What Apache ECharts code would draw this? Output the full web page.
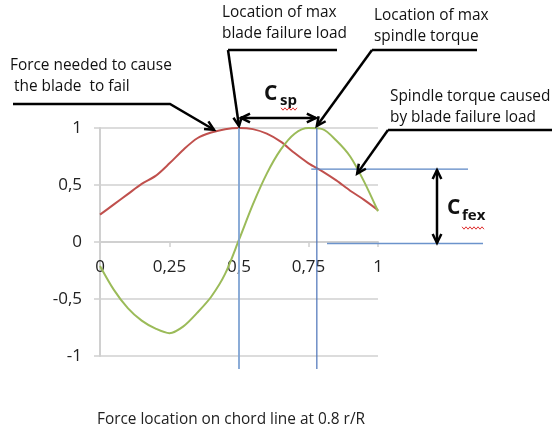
<!DOCTYPE html>
<html>
<head>
<meta charset="utf-8">
<script src="https://cdn.jsdelivr.net/npm/echarts@6/dist/echarts.min.js"></script>
<style>
html,body{margin:0;padding:0;background:#fff;}
#c{width:552px;height:430px;}
</style>
</head>
<body>
<div id="c"></div>
<script>
// ---- data ----
var xPositions = [0, 0.05, 0.1, 0.15, 0.2, 0.25, 0.3, 0.35, 0.4, 0.45, 0.5, 0.55, 0.6, 0.65, 0.7, 0.75, 0.8, 0.85, 0.9, 0.95, 1];
var bladeFailureForce = [0.24, 0.33, 0.42, 0.51, 0.58, 0.69, 0.81, 0.91, 0.96, 0.99, 1.0, 0.99, 0.95, 0.88, 0.78, 0.69, 0.62, 0.54, 0.45, 0.37, 0.28];
var spindleTorque = [-0.21, -0.42, -0.58, -0.69, -0.76, -0.80, -0.74, -0.62, -0.48, -0.28, 0.02, 0.33, 0.60, 0.81, 0.95, 1.0, 0.99, 0.89, 0.75, 0.53, 0.27];
var xTicks = [0, 0.25, 0.5, 0.75, 1];
var yTicks = [-1, -0.5, 0, 0.5, 1];
var maxBladeLoadX = 0.5;
var maxSpindleTorqueX = 0.78;
var torqueAtBladeFailure = 0.64;
var xTitle = 'Force location on chord line at 0.8 r/R';

var FONT = '"Open Sans", Lato, sans-serif';
function fmt(v) { return String(v).replace('.', ','); }
function pairs(xs, ys) { return xs.map(function (x, i) { return [x, ys[i]]; }); }

var chart = echarts.init(document.getElementById('c'), null, {renderer: 'canvas'});
chart.setOption({
  animation: false,
  backgroundColor: '#fff',
  grid: {left: 100, right: 174, top: 128, bottom: 74, containLabel: false},
  xAxis: {
    type: 'value', min: xTicks[0], max: xTicks[xTicks.length - 1], interval: xTicks[1] - xTicks[0],
    axisLine: {onZero: false, lineStyle: {color: '#d0d0d0', width: 2}},
    axisTick: {show: true, length: 5, lineStyle: {color: '#d0d0d0', width: 1.5}},
    axisLabel: {formatter: fmt, margin: 17, color: '#222', fontSize: 17, fontFamily: FONT},
    splitLine: {show: false}
  },
  yAxis: {
    type: 'value', min: yTicks[0], max: yTicks[yTicks.length - 1], interval: yTicks[1] - yTicks[0],
    axisLine: {show: true, lineStyle: {color: '#d0d0d0', width: 2}},
    axisTick: {show: true, length: 6, lineStyle: {color: '#d0d0d0', width: 1.5}},
    axisLabel: {formatter: fmt, margin: 18, color: '#222', fontSize: 17, fontFamily: FONT},
    splitLine: {show: true, lineStyle: {color: '#dcdcdc', width: 2}}
  },
  series: [
    {type: 'line', name: 'blade', data: pairs(xPositions, bladeFailureForce), smooth: 0.3, symbol: 'none',
     lineStyle: {color: '#c0504d', width: 2}, z: 3},
    {type: 'line', name: 'spindle', data: pairs(xPositions, spindleTorque), smooth: 0.3, symbol: 'none',
     lineStyle: {color: '#9bbb59', width: 2}, z: 3}
  ]
});

function P(x, y) { return chart.convertToPixel({gridIndex: 0}, [x, y]); }

// move the x axis (line, ticks and labels) up to y = 0, as in the reference
var zeroPx = P(0, 0)[1], bottomPx = P(0, yTicks[0])[1];
chart.setOption({xAxis: {offset: -(bottomPx - zeroPx)}});

var els = [];
var BLK = {stroke: '#000', lineWidth: 2.5, fill: null};
var TS = 15.4;
function line(pts, style) { els.push({type: 'polyline', shape: {points: pts}, style: style || BLK, z: 10}); }
function head(x1, y1, x2, y2) {
  var a = Math.atan2(y2 - y1, x2 - x1), L = 10, w = 0.45;
  line([[x2 - L * Math.cos(a - w), y2 - L * Math.sin(a - w)], [x2, y2], [x2 - L * Math.cos(a + w), y2 - L * Math.sin(a + w)]]);
}
function arrow(x1, y1, x2, y2) { line([[x1, y1], [x2, y2]]); head(x1, y1, x2, y2); }
function dbl(x1, y1, x2, y2) { line([[x1, y1], [x2, y2]]); head(x1, y1, x2, y2); head(x2, y2, x1, y1); }
function txt(t, x, y, opts) {
  opts = opts || {};
  els.push({type: 'text', x: x, y: y, z: 12, style: {text: t, fill: opts.color || '#111', font: (opts.weight || 'normal') + ' ' + (opts.size || TS) + 'px ' + FONT, textVerticalAlign: 'middle', textAlign: opts.align || 'left'}});
}
function wavy(x1, x2, y) {
  var pts = [], i = 0;
  for (var x = x1; x <= x2; x += 2) { pts.push([x, y + (i % 2 ? 1.2 : -1.2)]); i++; }
  line(pts, {stroke: '#e03030', lineWidth: 1, fill: null});
}

// blue reference lines
var pBladeTop = P(maxBladeLoadX, 1), pBladeBot = P(maxBladeLoadX, -1);
var pSpTop = P(maxSpindleTorqueX, 1), pSpBot = P(maxSpindleTorqueX, -1);
line([[pBladeTop[0], pBladeTop[1]], [pBladeBot[0], pBladeBot[1] + 13]], {stroke: '#7fa3d3', lineWidth: 1.8, fill: null});
line([[pSpTop[0], pSpTop[1]], [pSpBot[0], pSpBot[1] + 13]], {stroke: '#4a72b8', lineWidth: 1.2, fill: null});
var pT = P(0.76, torqueAtBladeFailure);
line([[pT[0], pT[1]], [468, pT[1]]], {stroke: '#5b86c4', lineWidth: 1.3, fill: null});
var pZ = P(0, 0);
line([[327, pZ[1] + 1.5], [483, pZ[1] + 1.5]], {stroke: '#6b93cc', lineWidth: 1.6, fill: null});

// leader 1: force needed
var t1 = P(0.41, 0.985);
line([[13, 104], [170, 104], [t1[0], t1[1]]]);
head(170, 104, t1[0], t1[1]);
txt('Force needed to cause', 10, 66);
txt(' the blade  to fail', 10, 87);

// leader 2: location of max blade failure load
line([[228, 50], [337, 50]]);
arrow(228, 50, pBladeTop[0], pBladeTop[1] - 2);
txt('Location of max', 222, 13);
txt('blade failure load', 222, 34);

// leader 3: location of max spindle torque
line([[372, 50], [477, 50]]);
arrow(372, 50, pSpTop[0], pSpTop[1] - 2);
txt('Location of max', 374, 16);
txt('spindle torque', 374, 37);

// leader 4: spindle torque caused by blade failure load
var t4 = P(0.925, 0.6);
line([[388, 130], [552, 130]]);
arrow(388, 130, t4[0], t4[1]);
txt('Spindle torque caused', 390, 97);
txt('by blade failure load', 390, 118);

// Csp
dbl(pBladeTop[0] + 2, 118, pSpTop[0] - 1, 118);
txt('C', 264, 94, {size: 21, weight: 'bold'});
txt('sp', 280, 101, {size: 15, weight: 'bold'});
wavy(281, 297, 109);

// Cfex
var cT = P(0, torqueAtBladeFailure);
dbl(437, cT[1] + 1, 437, pZ[1] + 1);
txt('C', 447, 208, {size: 21, weight: 'bold'});
txt('fex', 462, 216, {size: 15, weight: 'bold'});
wavy(462, 484, 228);

// x title
txt(xTitle, 231, 420, {align: 'center', size: 15.4, color: '#222'});

chart.setOption({graphic: {elements: els}});
</script>
</body>
</html>
